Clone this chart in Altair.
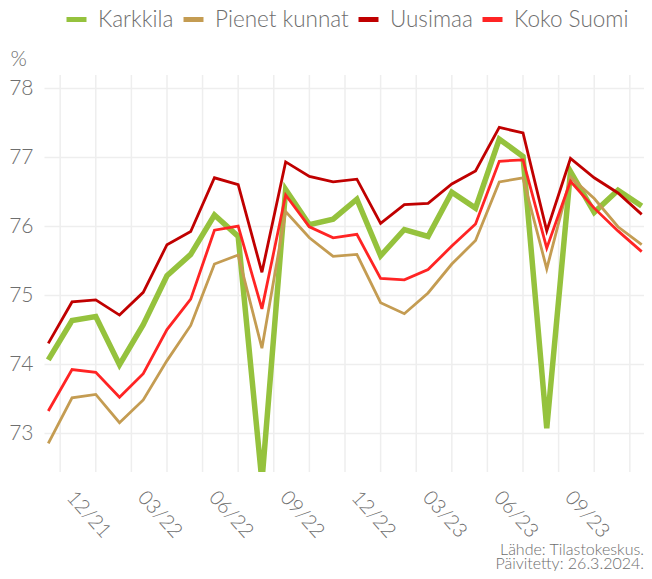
import altair as alt
import pandas as pd

months = ["11/21", "12/21", "01/22", "02/22", "03/22", "04/22", "05/22", "06/22",
          "07/22", "08/22", "09/22", "10/22", "11/22", "12/22", "01/23", "02/23",
          "03/23", "04/23", "05/23", "06/23", "07/23", "08/23", "09/23", "10/23",
          "11/23", "12/23"]

karkkila = [74.06, 74.63, 74.69, 73.99, 74.57, 75.28, 75.59, 76.16, 75.85, 72.30,
            76.53, 76.02, 76.10, 76.39, 75.57, 75.95, 75.85, 76.49, 76.26, 77.26,
            77.01, 73.07, 76.79, 76.20, 76.52, 76.29]
pienet = [72.85, 73.51, 73.56, 73.15, 73.48, 74.05, 74.56, 75.45, 75.58, 74.23,
          76.21, 75.83, 75.56, 75.59, 74.89, 74.73, 75.03, 75.45, 75.79, 76.64,
          76.70, 75.38, 76.71, 76.40, 75.99, 75.73]
uusimaa = [74.30, 74.90, 74.93, 74.71, 75.04, 75.73, 75.92, 76.70, 76.60, 75.33,
           76.93, 76.72, 76.64, 76.68, 76.04, 76.31, 76.33, 76.61, 76.80, 77.43,
           77.35, 75.93, 76.98, 76.70, 76.48, 76.17]
koko = [73.32, 73.92, 73.88, 73.52, 73.86, 74.50, 74.94, 75.94, 76.00, 74.80,
        76.45, 75.99, 75.83, 75.88, 75.24, 75.22, 75.37, 75.71, 76.03, 76.94,
        76.96, 75.68, 76.65, 76.26, 75.93, 75.63]

series_names = ["Karkkila", "Pienet kunnat", "Uusimaa", "Koko Suomi"]
series_colors = ["#95C23D", "#C49C52", "#C00000", "#FF2424"]

label_idx = [1, 4, 7, 10, 13, 16, 19, 22]
y_ticks = [73, 74, 75, 76, 77, 78]
grid_x = [0.5 + 1.5 * k for k in range(17)]

source_lines = ["Lähde: Tilastokeskus.", "Päivitetty: 26.3.2024."]

rows = []
for name, vals in zip(series_names, [karkkila, pienet, uusimaa, koko]):
    for i, v in enumerate(vals):
        rows.append({"i": i, "kk": months[i], "sarja": name, "arvo": v,
                     "ord": series_names.index(name)})
df = pd.DataFrame(rows)

FONT = "Lato"
GRAY = "#6e6e6e"
FS = 21

x_scale = alt.Scale(domain=[-0.181, 25.097], nice=False, zero=False)
y_scale = alt.Scale(domain=[72.435, 78.19], nice=False, zero=False)

label_array = "[" + ",".join("'" + m + "'" for m in months) + "]"

x_axis = alt.Axis(values=label_idx, labelExpr=label_array + "[datum.value]",
                  grid=False, ticks=False, domain=False,
                  labelAngle=48, labelAlign="left", labelBaseline="top",
                  labelPadding=15, labelOffset=5, labelFontSize=20, labelColor=GRAY,
                  labelFont=FONT, labelFontWeight=300, title=None)

grid = alt.Chart(pd.DataFrame({"g": grid_x})).mark_rule(
    color="#eeeeee", strokeWidth=1.5
).encode(x=alt.X("g:Q", scale=x_scale, axis=x_axis))

lines = alt.Chart(df).mark_line(clip=True, strokeJoin="miter").encode(
    x=alt.X("i:Q", scale=x_scale, axis=x_axis),
    y=alt.Y("arvo:Q", scale=y_scale,
            axis=alt.Axis(values=y_ticks, grid=True, gridColor="#eeeeee", gridWidth=1.5,
                          ticks=False, domain=False, labelFontSize=FS,
                          labelColor=GRAY, labelFont=FONT, labelFontWeight=300,
                          labelPadding=11, title="%", titleAngle=0,
                          titleX=-34, titleY=-10, titleAlign="left",
                          titleBaseline="alphabetic", titleFontSize=FS,
                          titleFontWeight=300, titleColor=GRAY, titleFont=FONT)),
    color=alt.Color("sarja:N",
                    scale=alt.Scale(domain=series_names, range=series_colors),
                    legend=alt.Legend(title=None, orient="none", direction="horizontal",
                                      legendX=20, legendY=-68,
                                      symbolType="stroke", symbolSize=400,
                                      symbolStrokeWidth=5, labelFontSize=22.5,
                                      labelColor=GRAY, labelFont=FONT,
                                      labelFontWeight=300, labelOffset=9,
                                      columnPadding=-1, padding=0)),
    strokeWidth=alt.condition(alt.datum.sarja == "Karkkila", alt.value(5.5), alt.value(2.8)),
    order=alt.Order("ord:Q"),
    detail="sarja:N",
)

src1 = alt.Chart(pd.DataFrame({"t": [source_lines[0]]})).mark_text(
    align="right", baseline="alphabetic", fontSize=16, color=GRAY, font=FONT,
    fontWeight=300
).encode(text="t:N", x=alt.value(600), y=alt.value(480))

src2 = alt.Chart(pd.DataFrame({"t": [source_lines[1]]})).mark_text(
    align="right", baseline="alphabetic", fontSize=16, color=GRAY, font=FONT,
    fontWeight=300
).encode(text="t:N", x=alt.value(600), y=alt.value(494))

chart = alt.layer(grid, lines, src1, src2).properties(
    width=600, height=397,
    autosize=alt.AutoSizeParams(type="none"),
    padding={"left": 36, "top": 67, "right": 0, "bottom": 99},
).configure_view(stroke=None)

chart.save("out.html", embed_options={"renderer": "svg", "actions": False})
